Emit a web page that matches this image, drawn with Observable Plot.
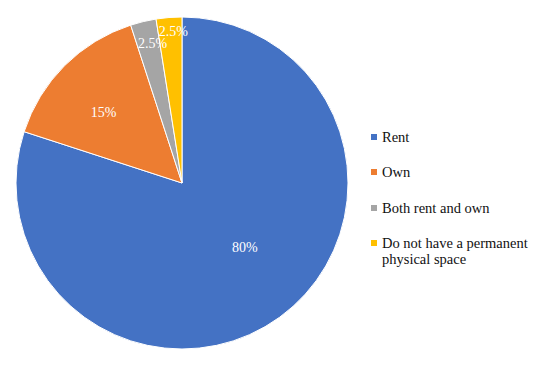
<!DOCTYPE html>
<html>
<head>
<meta charset="utf-8">
<script src="https://cdn.jsdelivr.net/npm/d3@7"></script>
<script src="https://cdn.jsdelivr.net/npm/@observablehq/plot@0.6"></script>
<style>
  html, body { margin: 0; padding: 0; background: #fff; }
  #chart { position: relative; width: 548px; height: 372px; overflow: hidden; }
  #chart svg { position: absolute; left: 0; top: 0; }
  .legend { position: absolute; left: 371px; top: 0; font-family: "Liberation Serif", serif; font-size: 14.5px; color: #111; }
  .legend .item { position: absolute; left: 0; display: flex; align-items: flex-start; width: 172px; line-height: 16px; }
  .legend .sw { flex: 0 0 auto; width: 6px; height: 6px; margin-top: 5px; margin-right: 5px; }
</style>
</head>
<body>
<div id="chart"></div>
<script>
// ---- data ----
const categories = ["Rent", "Own", "Both rent and own", "Do not have a permanent physical space"];
const shares = [80, 15, 2.5, 2.5];
const labels = ["80%", "15%", "2.5%", "2.5%"];
const colors = ["#4472C4", "#ED7D31", "#A5A5A5", "#FFC000"];

// ---- label placement styles (radius fraction, angle nudge in degrees) ----
const labelStyle = {
  "Rent": {r: 0.54, da: -8},
  "Own": {r: 0.64, da: -3},
  "Both rent and own": {r: 0.86, da: 1.4},
  "Do not have a permanent physical space": {r: 0.92, da: 1.1}
};

// ---- layout ----
const W = 548, H = 372, CX = 182, CY = 183, R = 166;

const rows = categories.map((c, i) => ({category: c, value: shares[i], label: labels[i]}));
const arcs = d3.pie().sort(null).value(d => d.value)(rows);
const labelRows = arcs.map(a => {
  const st = labelStyle[a.data.category];
  const mid = (a.startAngle + a.endAngle) / 2 + st.da * Math.PI / 180;
  return {...a.data, lx: st.r * Math.sin(mid), ly: st.r * Math.cos(mid)};
});

const pieMark = (index, scales, values, dimensions) => {
  const x0 = scales.x(0), y0 = scales.y(0);
  const rad = Math.abs(scales.x(1) - x0);
  const arc = d3.arc().innerRadius(0).outerRadius(rad);
  const g = d3.create("svg:g").attr("transform", `translate(${x0},${y0})`);
  g.selectAll("path").data(arcs).join("path")
    .attr("d", arc)
    .attr("fill", d => colors[categories.indexOf(d.data.category)])
    .attr("stroke", "#fff")
    .attr("stroke-width", 1)
    .attr("stroke-linejoin", "round");
  return g.node();
};

const plot = Plot.plot({
  width: W,
  height: H,
  margin: 0,
  x: {domain: [-CX / R, (W - CX) / R], axis: null},
  y: {domain: [(CY - H) / R, CY / R], axis: null},
  style: {background: "transparent", overflow: "visible"},
  marks: [
    pieMark,
    Plot.text(labelRows, {
      x: "lx", y: "ly", text: "label",
      fill: "#fff",
      fontSize: 14,
      fontFamily: "Liberation Serif, serif"
    })
  ]
});

const chart = document.getElementById("chart");
chart.appendChild(plot);

// ---- legend ----
const legend = d3.select(chart).append("div").attr("class", "legend");
const item = legend.selectAll(".item").data(categories).join("div")
  .attr("class", "item")
  .style("top", (d, i) => (129 + i * 35.4) + "px");
item.append("span").attr("class", "sw").style("background", (d, i) => colors[i]);
item.append("span").attr("class", "txt").text(d => d);
</script>
</body>
</html>
